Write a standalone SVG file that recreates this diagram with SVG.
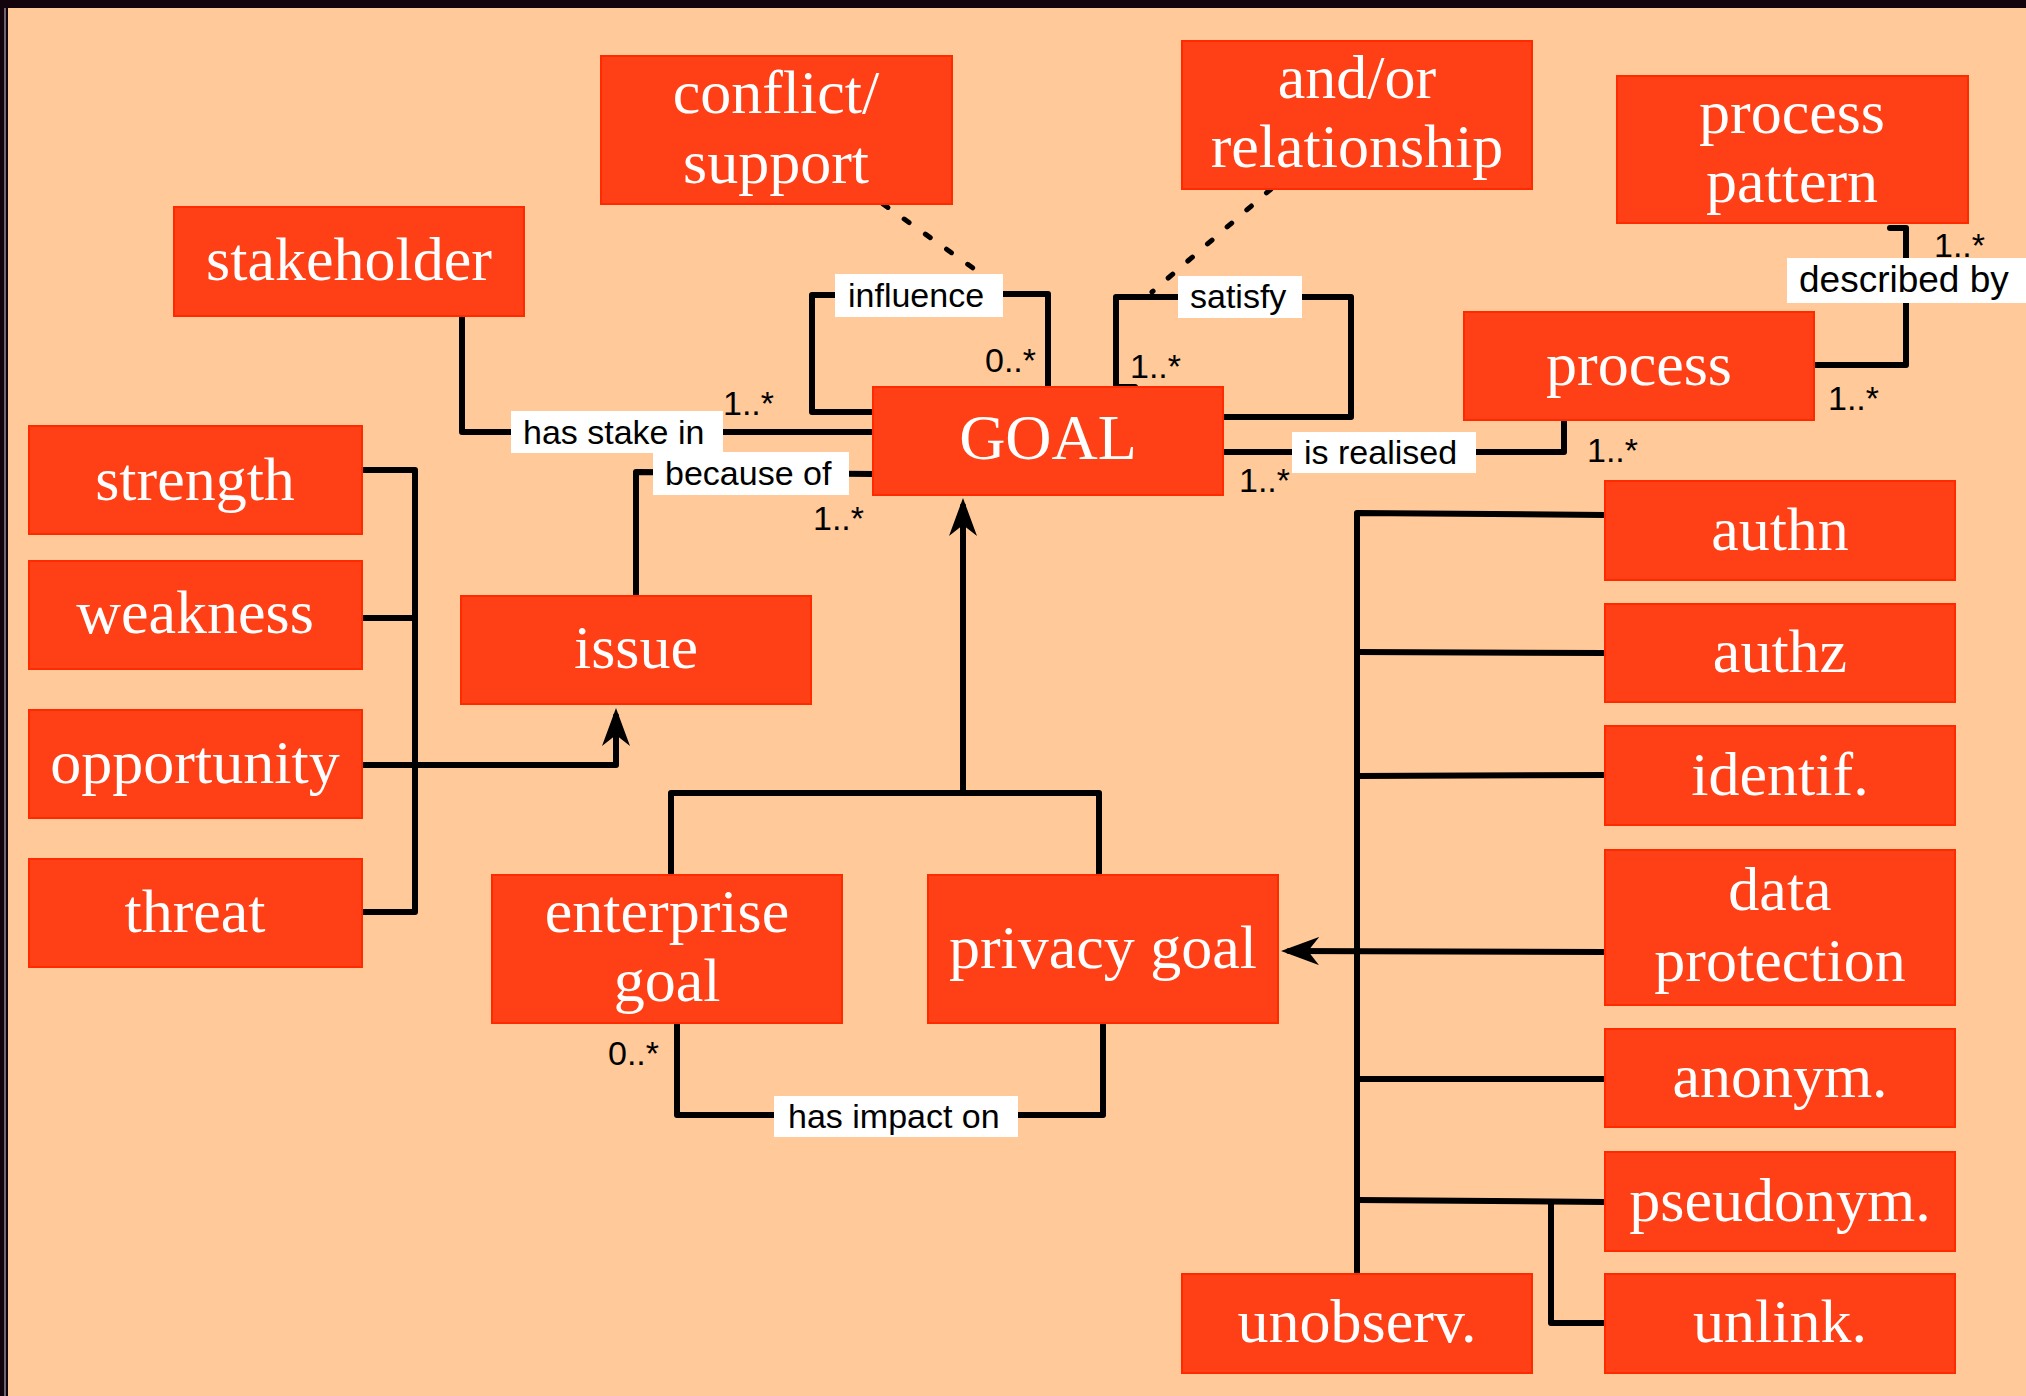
<svg xmlns="http://www.w3.org/2000/svg" width="2026" height="1396" viewBox="0 0 2026 1396">
<defs>
<style>
.bg{fill:#FFC99A}
.node rect{fill:#FF3F16;stroke:#FF2A00;stroke-width:2}
.node text{font-family:"Liberation Serif","Times New Roman",serif;font-size:62px;fill:#FFFFFF;text-anchor:middle}
.ln{fill:none;stroke:#000;stroke-width:6;stroke-linecap:round;stroke-linejoin:round}
.dot{fill:none;stroke:#000;stroke-width:5;stroke-linecap:round;stroke-dasharray:6 20}
.lbl rect{fill:#FFFFFF}
.lbl text,.mult{font-family:"Liberation Sans",Arial,sans-serif;font-size:34px;fill:#000}
</style>
<marker id="arr" markerUnits="userSpaceOnUse" markerWidth="40" markerHeight="30" refX="30" refY="14" orient="auto">
<path d="M38,14 L0,0 L11,14 L0,28 Z" fill="#000"/>
</marker>
</defs>
<rect class="bg" x="0" y="0" width="2026" height="1396"/>
<rect x="0" y="0" width="2026" height="8" fill="#12030C"/>
<rect x="0" y="0" width="8" height="1396" fill="#12030C"/>
<line x1="5" y1="8" x2="5" y2="1396" stroke="#8A8490" stroke-width="1.5"/>

<g id="connectors">
<path class="ln" d="M462,316 L462,432 L873,432"/>
<path class="ln" d="M873,412 L812,412 L812,295 L835,295"/>
<path class="ln" d="M1003,294 L1048,294 L1048,387"/>
<path class="ln" d="M1135,387 L1116,387 L1116,297 L1351,297 L1351,417 L1223,417"/>
<path class="ln" d="M1223,452 L1564,452 L1564,418"/>
<path class="ln" d="M1814,365 L1906,365 L1906,228 L1890,228"/>
<path class="ln" d="M873,474 L636,472 L636,596"/>
<path class="dot" d="M883,204 L987,278"/>
<path class="dot" d="M1271,189 L1152,292"/>
<path class="ln" d="M362,470 L415,470 L415,912 L362,912"/>
<path class="ln" d="M362,618 L415,618"/>
<path class="ln" d="M362,765 L616,765 L616,716" marker-end="url(#arr)"/>
<path class="ln" d="M671,875 L671,793 L1099,793 L1099,875"/>
<path class="ln" d="M963,793 L963,506" marker-end="url(#arr)"/>
<path class="ln" d="M677,1023 L677,1115 L1103,1115 L1103,1023"/>
<path class="ln" d="M1357,1274 L1357,513 L1605,515"/>
<path class="ln" d="M1357,652 L1605,653"/>
<path class="ln" d="M1357,776 L1605,775"/>
<path class="ln" d="M1357,1079 L1605,1079"/>
<path class="ln" d="M1357,1200 L1605,1202"/>
<path class="ln" d="M1551,1202 L1551,1323 L1605,1323"/>
<path class="ln" d="M1605,952 L1289,951" marker-end="url(#arr)"/>

<text class="mult" x="723" y="415">1..*</text>
<text class="mult" x="813" y="530">1..*</text>
<text class="mult" x="985" y="372">0..*</text>
<text class="mult" x="1130" y="378">1..*</text>
<text class="mult" x="1239" y="492">1..*</text>
<text class="mult" x="1587" y="462">1..*</text>
<text class="mult" x="1828" y="410">1..*</text>
<text class="mult" x="1934" y="257">1..*</text>
<text class="mult" x="608" y="1065">0..*</text>

<g class="lbl"><rect x="511" y="411" width="212" height="42"/><text x="523" y="444">has stake in</text></g>
<g class="lbl"><rect x="653" y="452" width="196" height="43"/><text x="665" y="485">because of</text></g>
<g class="lbl"><rect x="835" y="274" width="168" height="43"/><text x="848" y="307">influence</text></g>
<g class="lbl"><rect x="1178" y="276" width="124" height="42"/><text x="1190" y="308">satisfy</text></g>
<g class="lbl"><rect x="1292" y="432" width="184" height="41"/><text x="1304" y="464">is realised</text></g>
<g class="lbl"><rect x="1787" y="258" width="239" height="45"/><text x="1799" y="292" style="font-size:37px">described by</text></g>
<g class="lbl"><rect x="774" y="1096" width="244" height="41"/><text x="788" y="1128">has impact on</text></g>
</g>

<g id="stakeholder" class="node"><rect x="174" y="207" width="350" height="109"/><text x="349" y="280">stakeholder</text></g>
<g id="conflict-support" class="node"><rect x="601" y="56" width="351" height="148"/><text x="776" y="113">conflict/</text><text x="776" y="183">support</text></g>
<g id="and-or-relationship" class="node"><rect x="1182" y="41" width="350" height="148"/><text x="1357" y="98">and/or</text><text x="1357" y="167">relationship</text></g>
<g id="process-pattern" class="node"><rect x="1617" y="76" width="351" height="147"/><text x="1792" y="133">process</text><text x="1792" y="202">pattern</text></g>
<g id="process" class="node"><rect x="1464" y="312" width="350" height="108"/><text x="1639" y="385">process</text></g>
<g id="goal" class="node"><rect x="873" y="387" width="350" height="108"/><text x="1048" y="459" style="font-size:64px">GOAL</text></g>
<g id="strength" class="node"><rect x="29" y="426" width="333" height="108"/><text x="195" y="500">strength</text></g>
<g id="weakness" class="node"><rect x="29" y="561" width="333" height="108"/><text x="195" y="633">weakness</text></g>
<g id="opportunity" class="node"><rect x="29" y="710" width="333" height="108"/><text x="195" y="783">opportunity</text></g>
<g id="threat" class="node"><rect x="29" y="859" width="333" height="108"/><text x="195" y="932">threat</text></g>
<g id="issue" class="node"><rect x="461" y="596" width="350" height="108"/><text x="636" y="668">issue</text></g>
<g id="enterprise-goal" class="node"><rect x="492" y="875" width="350" height="148"/><text x="667" y="932">enterprise</text><text x="667" y="1001">goal</text></g>
<g id="privacy-goal" class="node"><rect x="928" y="875" width="350" height="148"/><text x="1103" y="968">privacy goal</text></g>
<g id="authn" class="node"><rect x="1605" y="481" width="350" height="99"/><text x="1780" y="550">authn</text></g>
<g id="authz" class="node"><rect x="1605" y="604" width="350" height="98"/><text x="1780" y="672">authz</text></g>
<g id="identif" class="node"><rect x="1605" y="726" width="350" height="99"/><text x="1780" y="795">identif.</text></g>
<g id="data-protection" class="node"><rect x="1605" y="850" width="350" height="155"/><text x="1780" y="910">data</text><text x="1780" y="981">protection</text></g>
<g id="anonym" class="node"><rect x="1605" y="1029" width="350" height="98"/><text x="1780" y="1097">anonym.</text></g>
<g id="pseudonym" class="node"><rect x="1605" y="1152" width="350" height="99"/><text x="1780" y="1221">pseudonym.</text></g>
<g id="unlink" class="node"><rect x="1605" y="1274" width="350" height="99"/><text x="1780" y="1342">unlink.</text></g>
<g id="unobserv" class="node"><rect x="1182" y="1274" width="350" height="99"/><text x="1357" y="1342">unobserv.</text></g>
</svg>
